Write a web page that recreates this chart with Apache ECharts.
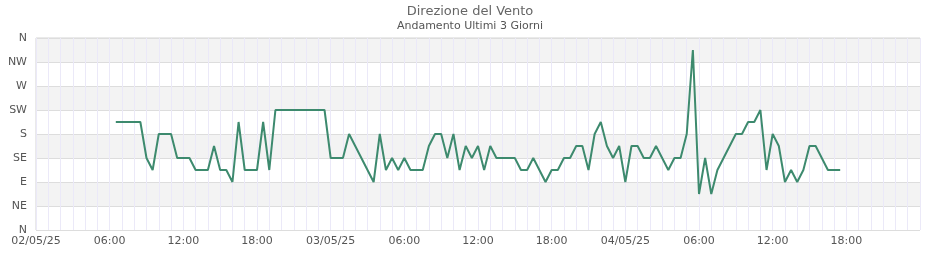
<!DOCTYPE html>
<html>
<head>
<meta charset="utf-8">
<script src="https://cdn.jsdelivr.net/npm/echarts@6/dist/echarts.min.js"></script>
<style>
html,body{margin:0;padding:0;background:#fff;}
#chart{width:940px;height:260px;}
</style>
</head>
<body>
<div id="chart"></div>
<script>
// Chart data
var titleText = "Direzione del Vento";
var subtitleText = "Andamento Ultimi 3 Giorni";
var directionLabels = ["N", "NE", "E", "SE", "S", "SW", "W", "NW", "N"];
var dayLabels = ["02/05/25", "03/05/25", "04/05/25", "05/05/25"];
var firstSampleHour = 6.5;   // 02/05/25 06:30
var sampleStepHours = 0.5;   // one reading every 30 minutes
var directionValues = [
  202.5, 202.5, 202.5, 202.5, 202.5, 135, 112.5, 180, 180, 180,
  135, 135, 135, 112.5, 112.5, 112.5, 157.5, 112.5, 112.5, 90,
  202.5, 112.5, 112.5, 112.5, 202.5, 112.5, 225, 225, 225, 225,
  225, 225, 225, 225, 225, 135, 135, 135, 180, 157.5,
  135, 112.5, 90, 180, 112.5, 135, 112.5, 135, 112.5, 112.5,
  112.5, 157.5, 180, 180, 135, 180, 112.5, 157.5, 135, 157.5,
  112.5, 157.5, 135, 135, 135, 135, 112.5, 112.5, 135, 112.5,
  90, 112.5, 112.5, 135, 135, 157.5, 157.5, 112.5, 180, 202.5,
  157.5, 135, 157.5, 90, 157.5, 157.5, 135, 135, 157.5, 135,
  112.5, 135, 135, 180, 337.5, 67.5, 135, 67.5, 112.5, 135,
  157.5, 180, 180, 202.5, 202.5, 225, 112.5, 180, 157.5, 90,
  112.5, 90, 112.5, 157.5, 157.5, 135, 112.5, 112.5, 112.5
];

var seriesData = directionValues.map(function (v, i) {
  return [firstSampleHour + i * sampleStepHours, v];
});

var FONT = "DejaVu Sans";
var chart = echarts.init(document.getElementById('chart'), null, {renderer: 'canvas'});
chart.setOption({
  animation: false,
  backgroundColor: '#ffffff',
  title: {
    text: titleText,
    subtext: subtitleText,
    left: 'center',
    top: 0,
    itemGap: 3,
    textStyle: {fontFamily: FONT, fontSize: 13, fontWeight: 'normal', color: '#666666'},
    subtextStyle: {fontFamily: FONT, fontSize: 11, color: '#555555'}
  },
  grid: {
    left: 36, right: 20, top: 38, bottom: 30,
    show: true, borderColor: '#d4d4d4', borderWidth: 1, backgroundColor: 'transparent'
  },
  xAxis: {
    type: 'value',
    min: 0, max: 72, interval: 6,
    axisLine: {show: false},
    axisTick: {show: false},
    minorTick: {show: false, splitNumber: 6},
    splitLine: {show: true, lineStyle: {color: '#ebe9f8', width: 1}},
    minorSplitLine: {show: true, lineStyle: {color: '#ebe9f8', width: 1}},
    axisLabel: {
      fontFamily: FONT, fontSize: 11, color: '#555555', margin: 6,
      showMaxLabel: false,
      formatter: function (v) {
        var h = Math.round(v) % 24;
        if (h === 0) return dayLabels[Math.round(v) / 24];
        return (h < 10 ? '0' : '') + h + ':00';
      }
    }
  },
  yAxis: {
    type: 'value',
    min: 0, max: 360, interval: 45,
    axisLine: {show: false},
    axisTick: {show: false},
    splitLine: {show: true, lineStyle: {color: '#dddddd', width: 1}},
    splitArea: {show: true, areaStyle: {color: ['#ffffff', '#f3f3f3']}},
    axisLabel: {
      fontFamily: FONT, fontSize: 11, color: '#555555', margin: 9,
      formatter: function (v) { return directionLabels[Math.round(v / 45)]; }
    }
  },
  series: [{
    type: 'line',
    data: seriesData,
    showSymbol: false,
    symbol: 'none',
    lineStyle: {color: '#3d8a6e', width: 2},
    itemStyle: {color: '#3d8a6e'}
  }]
});
</script>
</body>
</html>
